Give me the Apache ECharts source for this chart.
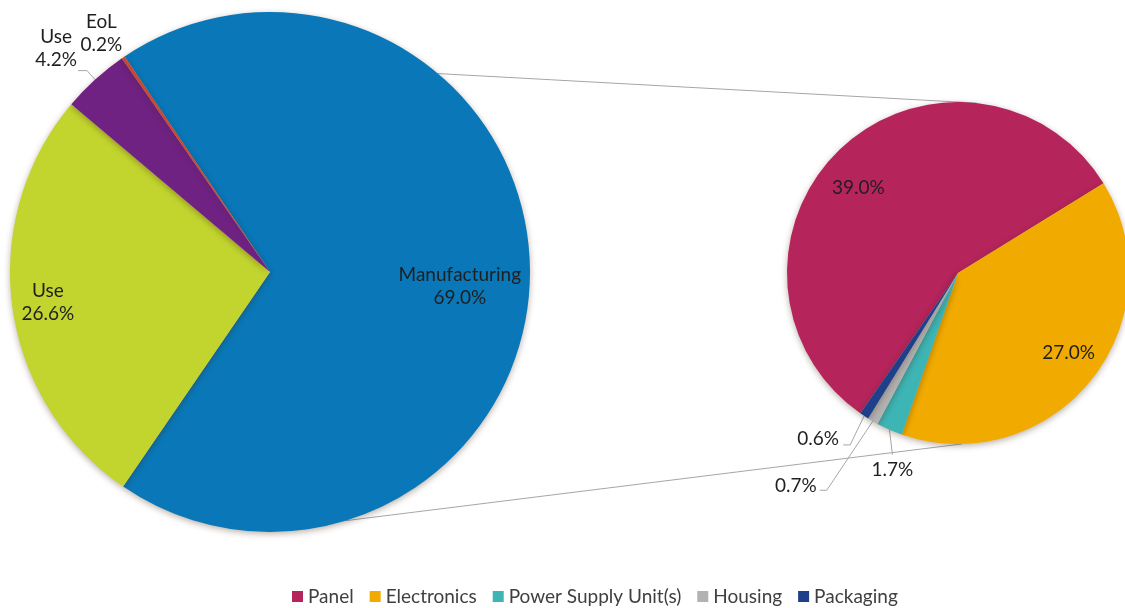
<!DOCTYPE html>
<html>
<head>
<meta charset="utf-8">
<script src="https://cdn.jsdelivr.net/npm/echarts@6/dist/echarts.min.js"></script>
<style>
  html, body { margin: 0; padding: 0; background: #fff; }
  #chart { width: 1125px; height: 608px; }
</style>
</head>
<body>
<div id="chart"></div>
<script>
// 左侧饼图：生命周期阶段
var stageNames = ['Manufacturing', 'Use', 'Use', 'EoL'];
var stageValues = [69.0, 26.6, 4.2, 0.2];
var stageColors = ['#0a78b8', '#c2d52f', '#6f2282', '#c8472f'];

// 右侧饼图：制造部分拆分
var partNames = ['Panel', 'Electronics', 'Power Supply Unit(s)', 'Housing', 'Packaging'];
var partValues = [39.0, 27.0, 1.7, 0.7, 0.6];
var partColors = ['#b5255b', '#f1ab00', '#3db5b5', '#b2b2b2', '#1e3f8a'];

var FONT = 'Lato';
var leftC = [270, 272], leftR = 260, leftStart = 124;
var rightC = [958, 273], rightR = 171, rightStart = 235.15;

function pt(c, r, deg) {
  var a = deg * Math.PI / 180;
  return [c[0] + r * Math.cos(a), c[1] - r * Math.sin(a)];
}

// 每个扇区的中间角度
function midAngles(values, start) {
  var tot = values.reduce(function (s, v) { return s + v; }, 0);
  var a = start;
  return values.map(function (v) {
    var span = v / tot * 360;
    var m = a - span / 2;
    a -= span;
    return m;
  });
}

// 标签摆放：inside -> 半径比例 + 偏移；outside -> 折线 + 标签偏移
var leftPlace = [
  { k: 0.73, off: [0, 14] },
  { k: 0.87, off: [2, 0] },
  { line: [[-8, -9], [-9, 0]], off: [-22, -22] },
  { off: [-22, -24] }
];
var rightPlace = [
  { k: 0.78, off: [-8, 12] },
  { k: 0.8, off: [4, -6] },
  { line: [[3, 25]], off: [0, 15] },
  { line: [[-46, 69], [-7, 0]], off: [-24, -4] },
  { line: [[-14, 29], [-7, 0]], off: [-25, -6] }
];

function placer(c, r, values, start, place) {
  var mids = midAngles(values, start);
  return function (p) {
    var s = place[p.dataIndex];
    var m = mids[p.dataIndex];
    if (s.k) {
      var q = pt(c, s.k * r, m);
      return { x: q[0] + s.off[0], y: q[1] + s.off[1], align: 'center', verticalAlign: 'middle' };
    }
    var e = pt(c, r, m);
    var pts = [e];
    var cur = e;
    (s.line || []).forEach(function (d) {
      cur = [cur[0] + d[0], cur[1] + d[1]];
      pts.push(cur);
    });
    while (pts.length < 3) pts.push(cur);
    var res = { x: cur[0] + s.off[0], y: cur[1] + s.off[1], align: 'center', verticalAlign: 'middle' };
    if (s.line) res.labelLinePoints = pts;
    return res;
  };
}

function pct(p) { return p.value.toFixed(1) + '%'; }

var myChart = echarts.init(document.getElementById('chart'));

var top1 = pt(leftC, leftR, leftStart), top2 = pt(rightC, rightR, 83.7);
var bot1 = pt(leftC, leftR, -73), bot2 = pt(rightC, rightR, -88.7);

var pieShadow = { shadowBlur: 6, shadowColor: 'rgba(60,30,0,0.35)', shadowOffsetY: 2 };

myChart.setOption({
  animation: false,
  textStyle: { fontFamily: FONT },
  legend: {
    data: partNames,
    left: 287,
    top: 582,
    icon: 'rect',
    itemWidth: 11,
    itemHeight: 11,
    itemGap: 16,
    textStyle: { fontFamily: FONT, fontSize: 19, color: '#404040' }
  },
  graphic: [
    { type: 'line', z: -1, shape: { x1: top1[0], y1: top1[1], x2: top2[0], y2: top2[1] }, style: { stroke: '#a6a6a6', lineWidth: 1 } },
    { type: 'line', z: -1, shape: { x1: bot1[0], y1: bot1[1], x2: bot2[0], y2: bot2[1] }, style: { stroke: '#a6a6a6', lineWidth: 1 } }
  ],
  series: [
    {
      name: 'stage',
      type: 'pie',
      center: leftC,
      radius: [0, leftR],
      startAngle: leftStart,
      clockwise: true,
      avoidLabelOverlap: false,
      itemStyle: pieShadow,
      label: { fontFamily: FONT, fontSize: 19, color: '#1f1f1f', lineHeight: 23, formatter: function (p) { return p.name + '\n' + pct(p); } },
      labelLine: { lineStyle: { color: '#a6a6a6', width: 1 } },
      labelLayout: placer(leftC, leftR, stageValues, leftStart, leftPlace),
      data: stageNames.map(function (n, i) {
        return {
          name: n,
          value: stageValues[i],
          itemStyle: { color: stageColors[i] },
          label: { position: i < 2 ? 'inside' : 'outside' },
          labelLine: { show: i === 2 }
        };
      })
    },
    {
      name: 'part',
      type: 'pie',
      center: rightC,
      radius: [0, rightR],
      startAngle: rightStart,
      clockwise: true,
      avoidLabelOverlap: false,
      itemStyle: pieShadow,
      label: { fontFamily: FONT, fontSize: 19, color: '#1f1f1f', formatter: pct },
      labelLine: { lineStyle: { color: '#a6a6a6', width: 1 } },
      labelLayout: placer(rightC, rightR, partValues, rightStart, rightPlace),
      data: partNames.map(function (n, i) {
        return {
          name: n,
          value: partValues[i],
          itemStyle: { color: partColors[i] },
          label: { position: i < 2 ? 'inside' : 'outside' },
          labelLine: { show: i >= 2 }
        };
      })
    }
  ]
});
</script>
</body>
</html>
